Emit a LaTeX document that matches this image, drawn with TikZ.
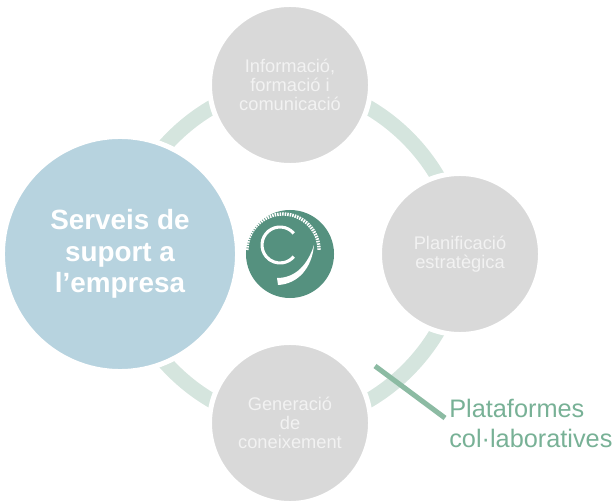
\documentclass[tikz,border=0pt]{standalone}
\usepackage{fontspec}
\setmainfont{Liberation Sans}
\usetikzlibrary{backgrounds, calc}

\tikzset{
  stage/.style={circle, fill=stagegray, draw=white, line width=3.56pt, minimum size=161*0.7113pt, inner sep=0pt, outer sep=0pt, align=center, text=stagetext, font=\fontsize{13}{13.7}\selectfont},
  hub/.style={stage, fill=hubblue, minimum size=235*0.7113pt, text=white, font=\bfseries\fontsize{19.8}{22.2}\selectfont},
  ringarc/.style={ringgreen, line width=10.7pt},
  callout/.style={calloutgreen, line width=3.6pt},
  emblem/.style={circle, fill=emblemteal, minimum size=88*0.7113pt, inner sep=0pt}
}
\definecolor{stagegray}{HTML}{D9D9D9}
\definecolor{stagetext}{HTML}{F2F2F2}
\definecolor{hubblue}{HTML}{B7D3DF}
\definecolor{ringgreen}{HTML}{D5E5DE}
\definecolor{calloutgreen}{HTML}{8CBBA3}
\definecolor{labelgreen}{HTML}{78B196}
\definecolor{emblemteal}{HTML}{55917F}

\begin{document}
\begin{tikzpicture}[x=0.025cm, y=0.025cm]
  \useasboundingbox (0, 0) rectangle (616, 500) ;

  \node[hub] (Hub) at (120, 246) {Serveis de\\suport a\\l'empresa} ;
  \node[stage] (Info) at (290, 415) {Informació,\\formació i\\comunicació} ;
  \node[stage] (Plan) at (460, 246) {Planificació\\estratègica} ;
  \node[stage] (Gen) at (290, 77) {Generació\\de\\coneixement} ;

  \begin{scope}[on background layer]
    \draw[ringarc] (Hub.center) to[bend left=45, looseness=0.915] (Info.center) ;
    \draw[ringarc] (Info.center) to[bend left=45, looseness=0.915] (Plan.center) ;
    \draw[ringarc] (Plan.center) to[bend left=45, looseness=0.915] (Gen.center) ;
    \draw[ringarc] (Gen.center) to[bend left=45, looseness=0.915] (Hub.center) ;
  \end{scope}

  \node[emblem] (Emblem) at (290, 246) {} ;
  \draw[white, line width=2.2pt] ([shift={(-10, 9)}]Emblem.center) ++(40:18) arc (40:320:18) ;
  \fill[white] ([shift={(-12, -31)}]Emblem.center) .. controls ([shift={(8, -30)}]Emblem.center) and ([shift={(22, -14)}]Emblem.center) .. ([shift={(24, 9)}]Emblem.center)
    .. controls ([shift={(18, -10)}]Emblem.center) and ([shift={(6, -24)}]Emblem.center) .. ([shift={(-13, -24)}]Emblem.center) -- cycle ;
  \draw[white, line width=2.4pt, dash pattern=on 1.1pt off 0.7pt] ([shift={(-7, 4)}]Emblem.center) ++(180:36) arc (180:0:36) ;

  \node[text=labelgreen, align=left, anchor=west, inner sep=0pt, font=\fontsize{18}{21.4}\selectfont] (Label) at (449, 77) {Plataformes\\col·laboratives} ;
  \coordinate (CalloutEnd) at (375, 134) ;
  \draw[callout] (CalloutEnd) -- ([shift={(-4, 5)}]Label.west) ;
\end{tikzpicture}
\end{document}
